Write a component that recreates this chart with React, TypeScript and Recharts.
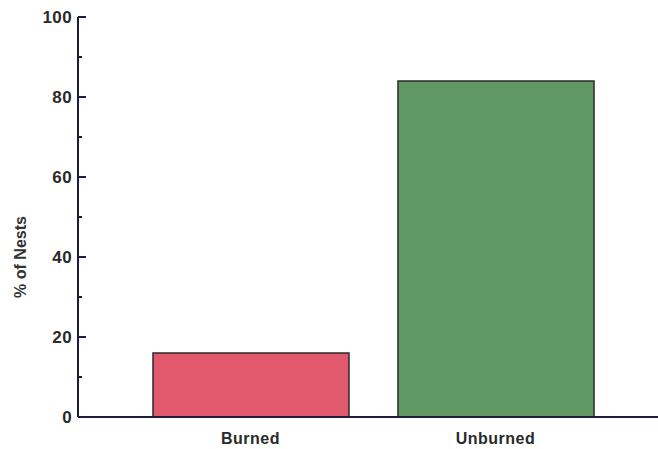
import React from "react";
import { BarChart, Bar, XAxis, YAxis, Cell } from "recharts";

const categories = ["Burned", "Unburned"];
const nestPercent = [16, 84];
const barColors = ["#e2586c", "#5f9862"];
const yTicks = [0, 10, 20, 30, 40, 50, 60, 70, 80, 90, 100];
const yLabels = [0, 20, 40, 60, 80, 100];

const data = categories.map((c, i) => ({ name: c, value: nestPercent[i] }));

const AXIS = "#1c1c3c";
const FONT = "'Liberation Sans', Arial, Helvetica, sans-serif";

const YTick = (props: any) => {
  const { x, y, payload } = props;
  const major = yLabels.includes(payload.value);
  return (
    <g>
      <line x1={x} x2={x + (major ? 8 : 4)} y1={y} y2={y} stroke={AXIS} strokeWidth={2} />
      {major && (
        <text
          x={x - 6}
          y={y + 6}
          textAnchor="end"
          fontFamily={FONT}
          fontSize={17}
          fontWeight="bold"
          fill="#2a2a2a"
          letterSpacing={0.4}
        >
          {payload.value}
        </text>
      )}
    </g>
  );
};

const XTick = (props: any) => {
  const { x, y, payload } = props;
  return (
    <text
      x={x}
      y={y + 27}
      textAnchor="middle"
      fontFamily={FONT}
      fontSize={16}
      fontWeight="bold"
      fill="#2a2a2a"
      letterSpacing={0.5}
    >
      {payload.value}
    </text>
  );
};

const YLabel = (props: any) => {
  const { viewBox } = props;
  const cx = 20;
  const cy = viewBox.y + viewBox.height / 2 + 40;
  return (
    <text
      x={cx}
      y={cy}
      transform={`rotate(-90, ${cx}, ${cy})`}
      textAnchor="middle"
      dominantBaseline="central"
      fontFamily={FONT}
      fontSize={16}
      fontWeight="bold"
      fill="#333"
    >
      % of Nests
    </text>
  );
};

export default function App() {
  return (
    <div style={{ position: "absolute", left: 0, top: 0, background: "#fff" }}>
      <BarChart
        width={658}
        height={449}
        data={data}
        margin={{ top: 17, right: 0, bottom: 0, left: 0 }}
      >
        <XAxis
          dataKey="name"
          height={32}
          padding={{ left: 50, right: 40 }}
          axisLine={{ stroke: AXIS, strokeWidth: 2 }}
          tickLine={false}
          tickSize={0}
          tickMargin={0}
          tick={<XTick />}
          interval={0}
        />
        <YAxis
          width={78}
          domain={[0, 100]}
          ticks={yTicks}
          interval={0}
          axisLine={{ stroke: AXIS, strokeWidth: 2 }}
          tickLine={false}
          tickSize={0}
          tickMargin={0}
          tick={<YTick />}
          label={<YLabel />}
        />
        <Bar dataKey="value" barSize={196} stroke="#2a2a2a" strokeWidth={1.5} isAnimationActive={false}>
          {data.map((d, i) => (
            <Cell key={d.name} fill={barColors[i]} />
          ))}
        </Bar>
      </BarChart>
    </div>
  );
}
